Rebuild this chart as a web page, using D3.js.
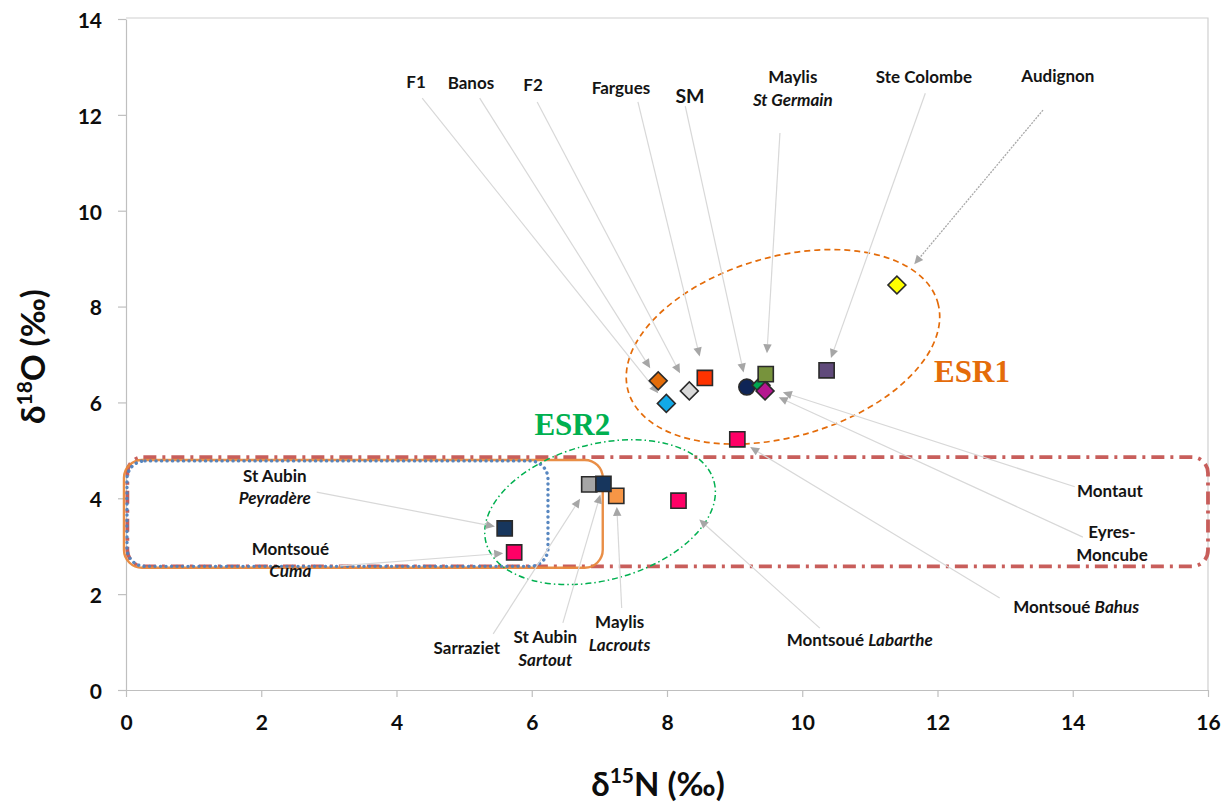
<!DOCTYPE html>
<html>
<head>
<meta charset="utf-8">
<script src="https://cdn.jsdelivr.net/npm/d3@7"></script>
<style>
  html, body { margin: 0; padding: 0; background: #fff; }
  svg { display: block; }
</style>
</head>
<body>
<svg id="chart" width="1228" height="804"></svg>
<script>
// ---------------- DATA ----------------
const sites = ["F1", "Banos", "F2", "Fargues", "SM", "Montaut", "Maylis St Germain",
  "Eyres-Moncube", "Ste Colombe", "Audignon", "Montsoué Bahus", "Montsoué Labarthe",
  "Maylis Lacrouts", "Sarraziet", "St Aubin Sartout", "St Aubin Peyradère", "Montsoué Cuma"];
const d15N = [7.99, 7.87, 8.33, 8.56, 9.18, 9.39, 9.46, 9.45, 10.36, 11.40, 9.04, 8.17, 7.25, 6.85, 7.06, 5.60, 5.74];
const d18O = [5.98, 6.45, 6.24, 6.51, 6.32, 6.36, 6.59, 6.24, 6.67, 8.45, 5.23, 3.95, 4.05, 4.29, 4.30, 3.37, 2.87];
const shapes = ["diamond", "diamond", "diamond", "square", "circle", "diamond", "square", "diamond",
  "square", "diamond", "square", "square", "square", "square", "square", "square", "square"];
const colors = ["#12A9E8", "#E36C09", "#D9D9D9", "#FF3300", "#0F2557", "#00A651", "#77933C", "#B5168F",
  "#604A7B", "#FFFF00", "#FF0066", "#FF0066", "#F79646", "#A6A6A6", "#17365D", "#17365D", "#FF0066"];

const xTicks = [0, 2, 4, 6, 8, 10, 12, 14, 16];
const yTicks = [0, 2, 4, 6, 8, 10, 12, 14];

// callout labels: text lines (segments [text, italic]), label anchor (data units), leader start (data units)
const callouts = [
  { site: "F1", lines: [[["F1", 0]]], lx: 4.29, ly: 12.56, sx: 4.38, sy: 12.35, gap: 13 },
  { site: "Banos", lines: [[["Banos", 0]]], lx: 5.10, ly: 12.54, sx: 5.23, sy: 12.35, gap: 15 },
  { site: "F2", lines: [[["F2", 0]]], lx: 6.02, ly: 12.50, sx: 6.08, sy: 12.27, gap: 20 },
  { site: "Fargues", lines: [[["Fargues", 0]]], lx: 7.32, ly: 12.43, sx: 7.57, sy: 12.27, gap: 22 },
  { site: "SM", lines: [[["SM", 0]]], lx: 8.34, ly: 12.25, sx: 8.27, sy: 12.18, gap: 15, big: 1 },
  { site: "Maylis St Germain", lines: [[["Maylis", 0]], [["St Germain", 1]]], lx: 9.86, ly: 12.66, sx: 9.67, sy: 11.62, gap: 21 },
  { site: "Ste Colombe", lines: [[["Ste Colombe", 0]]], lx: 11.80, ly: 12.66, sx: 11.82, sy: 12.45, gap: 13 },
  { site: "Audignon", lines: [[["Audignon", 0]]], lx: 13.78, ly: 12.69, sx: 13.56, sy: 12.10, gap: 27, dotted: 1 },
  { site: "Montaut", lines: [[["Montaut", 0]]], lx: 14.55, ly: 4.03, sx: 14.03, sy: 4.24, gap: 23 },
  { site: "Eyres-Moncube", lines: [[["Eyres-", 0]], [["Moncube", 0]]], lx: 14.58, ly: 3.17, sx: 14.15, sy: 3.19, gap: 15 },
  { site: "Montsoué Bahus", lines: [[["Montsoué ", 0], ["Bahus", 1]]], lx: 14.05, ly: 1.61, sx: 12.92, sy: 1.92, gap: 15 },
  { site: "Montsoué Labarthe", lines: [[["Montsoué ", 0], ["Labarthe", 1]]], lx: 10.85, ly: 0.92, sx: 10.26, sy: 1.29, gap: 28 },
  { site: "Maylis Lacrouts", lines: [[["Maylis", 0]], [["Lacrouts", 1]]], lx: 7.30, ly: 1.29, sx: 7.33, sy: 1.71, gap: 11 },
  { site: "Sarraziet", lines: [[["Sarraziet", 0]]], lx: 5.04, ly: 0.75, sx: 5.43, sy: 1.17, gap: 17 },
  { site: "St Aubin Sartout", lines: [[["St Aubin", 0]], [["Sartout", 1]]], lx: 6.20, ly: 0.98, sx: 6.46, sy: 1.40, gap: 11 },
  { site: "St Aubin Peyradère", lines: [[["St Aubin", 0]], [["Peyradère", 1]]], lx: 2.20, ly: 4.34, sx: 2.82, sy: 4.13, gap: 10 },
  { site: "Montsoué Cuma", lines: [[["Montsoué", 0]], [["Cuma", 1]]], lx: 2.43, ly: 2.82, sx: 3.16, sy: 2.59, gap: 11 }
];

// group outlines (data-unit extents)
const boxes = [
  { x0: 0.02, x1: 16.0, y0: 2.58, y1: 4.86, color: "#C55552", width: 3.8, dash: "13,6,3,6", r: 16 },
  { x0: -0.03, x1: 7.05, y0: 2.55, y1: 4.80, color: "#E8883C", width: 2.4, dash: null, r: 18 },
  { x0: 0.015, x1: 6.24, y0: 2.58, y1: 4.78, color: "#4F81BD", width: 3.4, dash: "0.1,5.4", r: 18 }
];
const ellipses = [
  { name: "ESR1", cx: 9.715, cy: 7.16, rx: 161, ry: 90, rot: -16, color: "#E46C0A", dash: "6,4", width: 1.7, tx: 12.51, ty: 6.43 },
  { name: "ESR2", cx: 7.01, cy: 3.71, rx: 118, ry: 68, rot: -15, color: "#00B050", dash: "6,3,1.5,3", width: 1.5, tx: 6.60, ty: 5.33 }
];

// ---------------- CHART ----------------
const svg = d3.select("#chart");
const x = d3.scaleLinear().domain([0, 16]).range([126, 1208]);
const y = d3.scaleLinear().domain([0, 14]).range([690, 19]);
const FONT = "Lato, 'Open Sans', 'Liberation Sans', sans-serif";

// plot border (top/right)
svg.append("path")
  .attr("d", `M${x(0)},${y(14) - 1}H${x(16)}V${y(0)}`)
  .attr("fill", "none").attr("stroke", "#D0D0D0").attr("stroke-width", 1.2);

// axes
const yAxis = svg.append("g").attr("transform", `translate(${x(0)},0)`)
  .call(d3.axisLeft(y).tickValues(yTicks).tickSize(8).tickSizeOuter(0).tickPadding(16));
const xAxis = svg.append("g").attr("transform", `translate(0,${y(0)})`)
  .call(d3.axisBottom(x).tickValues(xTicks).tickSize(7).tickSizeOuter(0).tickPadding(18));
[xAxis, yAxis].forEach(g => {
  g.select(".domain").attr("stroke", "#BFBFBF").attr("stroke-width", 1.2);
  g.selectAll(".tick line").attr("stroke", "#BFBFBF").attr("stroke-width", 1.2);
  g.selectAll(".tick text").attr("font-family", FONT).attr("font-weight", "bold")
    .attr("font-size", 21).attr("fill", "#0d0d0d");
});
yAxis.selectAll(".tick text").attr("dy", "0.40em");

// axis titles
const yt = svg.append("text")
  .attr("transform", `translate(45,${(y(0) + y(14)) / 2 + 2}) rotate(-90)`)
  .attr("text-anchor", "middle").attr("font-family", FONT).attr("font-weight", "bold")
  .attr("font-size", 33).attr("fill", "#0d0d0d");
yt.append("tspan").text("δ");
yt.append("tspan").attr("font-size", 21).attr("dy", -13).text("18");
yt.append("tspan").attr("dy", 13).text("O (‰)");

const xt = svg.append("text")
  .attr("x", 658).attr("y", 796)
  .attr("text-anchor", "middle").attr("font-family", FONT).attr("font-weight", "bold")
  .attr("font-size", 33).attr("fill", "#0d0d0d");
xt.append("tspan").text("δ");
xt.append("tspan").attr("font-size", 21).attr("dy", -13).text("15");
xt.append("tspan").attr("dy", 13).text("N (‰)");

// group boxes
boxes.forEach(b => {
  svg.append("rect")
    .attr("x", x(b.x0)).attr("y", y(b.y1))
    .attr("width", x(b.x1) - x(b.x0)).attr("height", y(b.y0) - y(b.y1))
    .attr("rx", b.r).attr("ry", b.r)
    .attr("fill", "none").attr("stroke", b.color).attr("stroke-width", b.width)
    .attr("stroke-dasharray", b.dash)
    .attr("stroke-linecap", b.dash && b.dash.startsWith("0.1") ? "round" : "butt")
    .attr("opacity", 0.95);
});

// ellipses
ellipses.forEach(e => {
  svg.append("ellipse")
    .attr("transform", `translate(${x(e.cx)},${y(e.cy)}) rotate(${e.rot})`)
    .attr("rx", e.rx).attr("ry", e.ry)
    .attr("fill", "none").attr("stroke", e.color).attr("stroke-width", e.width)
    .attr("stroke-dasharray", e.dash);
  svg.append("text")
    .attr("x", x(e.tx)).attr("y", y(e.ty))
    .attr("text-anchor", "middle")
    .attr("font-family", "'Liberation Serif', 'Times New Roman', serif")
    .attr("font-weight", "bold").attr("font-size", 31)
    .attr("fill", e.color).text(e.name);
});

// leader lines with arrowheads
const leaders = svg.append("g");
callouts.forEach(c => {
  const i = sites.indexOf(c.site);
  const px = x(d15N[i]), py = y(d18O[i]);
  const sx = x(c.sx), sy = y(c.sy);
  const dx = px - sx, dy = py - sy, len = Math.hypot(dx, dy);
  const ux = dx / len, uy = dy / len;
  const tx = px - ux * c.gap, ty = py - uy * c.gap;   // arrow tip
  const ah = 9, aw = 4.2;
  const bx = tx - ux * ah, by = ty - uy * ah;
  leaders.append("line")
    .attr("x1", sx).attr("y1", sy).attr("x2", bx).attr("y2", by)
    .attr("stroke", c.dotted ? "#A8A8A8" : "#D8D8D8")
    .attr("stroke-width", c.dotted ? 1.3 : 1.2)
    .attr("stroke-dasharray", c.dotted ? "2,1.2" : null);
  leaders.append("path")
    .attr("d", `M${tx},${ty}L${bx - uy * aw},${by + ux * aw}L${bx + uy * aw},${by - ux * aw}Z`)
    .attr("fill", "#A6A6A6");
});

// callout texts
const LH = 22.5;
callouts.forEach(c => {
  c.lines.forEach((segs, li) => {
    const t = svg.append("text")
      .attr("x", x(c.lx)).attr("y", y(c.ly) + li * LH)
      .attr("text-anchor", "middle").attr("font-family", FONT).attr("font-weight", "bold")
      .attr("font-size", c.big ? 19.5 : 17).attr("fill", "#141414");
    segs.forEach(s => t.append("tspan").attr("font-style", s[1] ? "italic" : "normal").text(s[0]));
  });
});

// markers
const sym = { square: d3.symbolSquare, diamond: d3.symbolSquare, circle: d3.symbolCircle };
const sizes = { square: 230, diamond: 160, circle: 200 };
svg.append("g").selectAll("path")
  .data(sites.map((s, i) => ({ s, i })))
  .join("path")
  .attr("transform", d => `translate(${x(d15N[d.i])},${y(d18O[d.i])})` + (shapes[d.i] === "diamond" ? " rotate(45)" : ""))
  .attr("d", d => d3.symbol().type(sym[shapes[d.i]]).size(sizes[shapes[d.i]])())
  .attr("fill", d => colors[d.i])
  .attr("stroke", "#2A2A2A").attr("stroke-width", 1.6);
</script>
</body>
</html>
